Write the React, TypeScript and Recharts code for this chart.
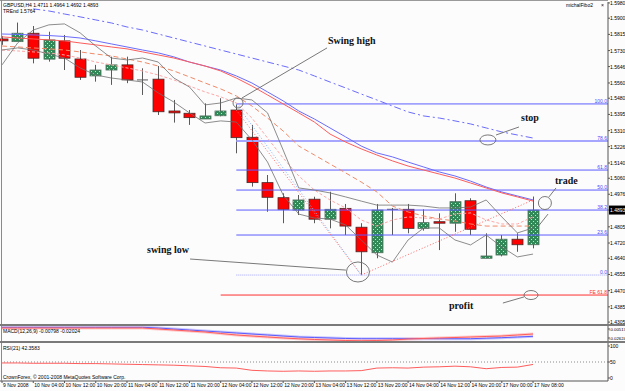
import React from "react";
import { ComposedChart, Bar, Line, XAxis, YAxis, ReferenceLine, ReferenceDot } from "recharts";

// time labels, one for every second H4 bar
const axisLabels = [
  "9 Nov 2008", "10 Nov 04:00", "10 Nov 12:00", "10 Nov 20:00", "11 Nov 04:00", "11 Nov 12:00",
  "11 Nov 20:00", "12 Nov 04:00", "12 Nov 12:00", "12 Nov 20:00", "13 Nov 04:00", "13 Nov 12:00",
  "13 Nov 20:00", "14 Nov 04:00", "14 Nov 12:00", "14 Nov 20:00", "17 Nov 00:00", "17 Nov 08:00",
];

const opens = [1.5791, 1.5777, 1.5821, 1.5685, 1.5781, 1.5686, 1.5597, 1.5628, 1.5655, 1.5576, 1.5580, 1.5413, 1.5401, 1.5371, 1.5388, 1.5418, 1.5275, 1.5037, 1.4958, 1.4893, 1.4950, 1.4845, 1.4902, 1.4803, 1.4669, 1.4897, 1.4897, 1.4797, 1.4832, 1.4824, 1.4942, 1.4640, 1.4657, 1.4740, 1.4711];
const highs = [1.5807, 1.5877, 1.5859, 1.5829, 1.5812, 1.5733, 1.5655, 1.5698, 1.5698, 1.5637, 1.5649, 1.5471, 1.5418, 1.5453, 1.5480, 1.5450, 1.5340, 1.5077, 1.4981, 1.4972, 1.4963, 1.4989, 1.4925, 1.4824, 1.4925, 1.4904, 1.4925, 1.4897, 1.4876, 1.4981, 1.4955, 1.4771, 1.4762, 1.4771, 1.4964];
const lows = [1.5760, 1.5775, 1.5663, 1.5672, 1.5628, 1.5576, 1.5567, 1.5550, 1.5559, 1.5497, 1.5392, 1.5352, 1.5340, 1.5371, 1.5385, 1.5191, 1.5016, 1.4884, 1.4824, 1.4867, 1.4824, 1.4797, 1.4762, 1.4552, 1.4640, 1.4762, 1.4771, 1.4785, 1.4683, 1.4779, 1.4762, 1.4640, 1.4650, 1.4674, 1.4692];
const closes = [1.5781, 1.5821, 1.5690, 1.5786, 1.5690, 1.5590, 1.5628, 1.5655, 1.5576, 1.5576, 1.5409, 1.5403, 1.5378, 1.5387, 1.5413, 1.5273, 1.5037, 1.4960, 1.4897, 1.4946, 1.4845, 1.4897, 1.4809, 1.4674, 1.4893, 1.4897, 1.4797, 1.4827, 1.4824, 1.4937, 1.4792, 1.4652, 1.4740, 1.4711, 1.4893];

// moving averages / bands
const maBlue = [1.5817, 1.5815, 1.5812, 1.5809, 1.5804, 1.5796, 1.5781, 1.5765, 1.5749, 1.5733, 1.5718, 1.5697, 1.5670, 1.5649, 1.5628, 1.5597, 1.5560, 1.5513, 1.5466, 1.5413, 1.5371, 1.5324, 1.5277, 1.5229, 1.5193, 1.5172, 1.5145, 1.5119, 1.5093, 1.5072, 1.5045, 1.5014, 1.4988, 1.4967, 1.4946];
const maRed = [1.5802, 1.5796, 1.5791, 1.5786, 1.5781, 1.5770, 1.5760, 1.5749, 1.5739, 1.5723, 1.5707, 1.5691, 1.5670, 1.5649, 1.5623, 1.5586, 1.5544, 1.5497, 1.5450, 1.5403, 1.5355, 1.5292, 1.5250, 1.5214, 1.5182, 1.5151, 1.5124, 1.5103, 1.5082, 1.5061, 1.5035, 1.5009, 1.4983, 1.4962, 1.4940];
const maOrange = [1.5754, 1.5749, 1.5744, 1.5739, 1.5733, 1.5723, 1.5712, 1.5702, 1.5686, 1.5670, 1.5649, 1.5623, 1.5592, 1.5560, 1.5529, 1.5492, 1.5439, 1.5376, 1.5308, 1.5229, 1.5182, 1.5135, 1.5088, 1.5040, 1.4988, 1.4914, 1.4883, 1.4862, 1.4846, 1.4836, 1.4820, 1.4809, 1.4809, 1.4809, 1.4809];
const maPink = [1.5733, 1.5728, 1.5723, 1.5718, 1.5707, 1.5691, 1.5670, 1.5655, 1.5639, 1.5623, 1.5602, 1.5576, 1.5544, 1.5513, 1.5487, 1.5455, 1.5376, 1.5271, 1.5166, 1.5072, 1.4998, 1.4946, 1.4904, 1.4841, 1.4809, 1.4841, 1.4857, 1.4851, 1.4846, 1.4872, 1.4878, 1.4841, 1.4820, 1.4820, 1.4857];
const maSlow = [null, null, 1.5949, 1.5938, 1.5922, 1.5907, 1.5891, 1.5875, 1.5854, 1.5838, 1.5817, 1.5796, 1.5775, 1.5754, 1.5733, 1.5712, 1.5691, 1.5670, 1.5649, 1.5628, 1.5597, 1.5565, 1.5534, 1.5502, 1.5471, 1.5439, 1.5408, 1.5387, 1.5376, 1.5361, 1.5345, 1.5324, 1.5303, 1.5287, 1.5271];
const bandA = [1.5655, 1.5770, 1.5838, 1.5865, 1.5870, 1.5823, 1.5754, 1.5691, 1.5681, 1.5691, 1.5670, 1.5586, 1.5539, 1.5445, 1.5455, 1.5481, 1.5471, 1.5403, 1.5208, 1.5009, 1.4998, 1.4983, 1.4962, 1.4940, 1.4919, 1.4919, 1.4919, 1.4914, 1.4904, 1.4904, 1.4909, 1.4946, 1.4857, 1.4773, 1.4799];
const bandB = [1.5733, 1.5744, 1.5733, 1.5712, 1.5691, 1.5639, 1.5602, 1.5586, 1.5576, 1.5565, 1.5508, 1.5460, 1.5403, 1.5350, 1.5361, 1.5355, 1.5261, 1.5145, 1.4972, 1.4872, 1.4851, 1.4846, 1.4815, 1.4736, 1.4657, 1.4620, 1.4736, 1.4799, 1.4799, 1.4736, 1.4710, 1.4762, 1.4699, 1.4647, 1.4662];

// trend lines: [bar index, price]
const fiboBaseLine = [[15, 1.5450], [23, 1.4552]];
const dropLine = [[15, 1.5418], [23, 1.4552]];
const riseLine = [[23, 1.4552], [34, 1.4946]];

// fibonacci levels
const fibLabels = ["100.0", "78.6", "61.8", "50.0", "38.2", "23.6", "0.0", "FE 61.8"];
const fibPrices = [1.5450, 1.5256, 1.5103, 1.4998, 1.4893, 1.4762, 1.4552, 1.4447];

const priceTicks = [1.5980, 1.5900, 1.5815, 1.5730, 1.5646, 1.5560, 1.5480, 1.5395, 1.5310, 1.5226, 1.5140, 1.5060, 1.4976, 1.4893, 1.4805, 1.4720, 1.4640, 1.4555, 1.4470, 1.4385, 1.4305];
const lastPrice = 1.4893;

const macdMain = [-0.0012, -0.0012, -0.0012, -0.0012, -0.0012, -0.0012, -0.0012, -0.0012, -0.0012, -0.0012, -0.0028, -0.0052, -0.0075, -0.0099, -0.0122, -0.0145, -0.0169, -0.0192, -0.0216, -0.0239, -0.0251, -0.0262, -0.0274, -0.0279, -0.0279, -0.0279, -0.0279, -0.0279, -0.0279, -0.0279, -0.0279, -0.0267, -0.0255, -0.0239, -0.0223];
const macdSignal = [-0.0028, -0.0028, -0.0028, -0.0028, -0.0028, -0.0028, -0.0028, -0.0028, -0.0028, -0.0028, -0.0052, -0.0075, -0.0099, -0.0122, -0.0157, -0.0192, -0.0216, -0.0239, -0.0262, -0.0281, -0.0297, -0.0309, -0.0321, -0.0326, -0.0321, -0.0309, -0.0286, -0.0274, -0.0262, -0.0251, -0.0239, -0.0227, -0.0216, -0.0192, -0.0169];
const macdTicks = [-0.00517, -0.02624];

const rsi = [47, 47, 46, 46, 46, 45, 45, 44, 43, 42, 41, 40, 38, 36, 32, 31, 24, 22, 21, 22, 21, 22, 22, 23, 31, 32, 31, 34, 35, 37, 35, 29, 33, 34, 42.36];
const rsiTicks = [0, 50, 100];

const X_DOMAIN: [number, number] = [-0.13, 38.8];
const timeTicks = axisLabels.map((_, k) => k * 2);

const pairAt = (pairs: number[][], i: number) => {
  const hit = pairs.find((p) => p[0] === i);
  return hit ? hit[1] : null;
};

const rows = opens.map((o, i) => ({
  i, o, h: highs[i], l: lows[i], c: closes[i],
  maBlue: maBlue[i], maRed: maRed[i], maOrange: maOrange[i], maPink: maPink[i], maSlow: maSlow[i],
  bandA: bandA[i], bandB: bandB[i],
  fiboBase: pairAt(fiboBaseLine, i), drop: pairAt(dropLine, i), rise: pairAt(riseLine, i),
  macdMain: macdMain[i], macdSignal: macdSignal[i], rsi: rsi[i],
}));

const SANS = '"Liberation Sans", Arial, sans-serif';
const SERIF = '"Liberation Serif", "Times New Roman", serif';

function Candle(props: any) {
  const { x, y, width, height, payload } = props;
  if (x == null || !payload) return null;
  const { o, h, l, c } = payload;
  const toY = (p: number) => y + ((h - p) / (h - l)) * height;
  const cx = Math.round(x + width / 2) + 0.5;
  const top = toY(Math.max(o, c));
  const bot = toY(Math.min(o, c));
  const up = c > o;
  const doji = Math.abs(c - o) < 0.00005;
  return (
    <g>
      <line x1={cx} x2={cx} y1={y} y2={y + height} stroke="#5a5a5a" strokeWidth={1} />
      {doji ? (
        <line x1={cx - 5.5} x2={cx + 5.5} y1={top} y2={top} stroke="#5a5a5a" strokeWidth={1} />
      ) : (
        <rect x={cx - 5.5} y={top} width={11} height={Math.max(bot - top, 1.5)}
          fill={up ? "url(#bullDots)" : "#ff0000"} stroke={up ? "#50705e" : "#4a2a2a"} strokeWidth={0.8} />
      )}
    </g>
  );
}

const PriceTick = (props: any) => {
  const { x, y, payload } = props;
  const v = payload.value;
  if (Math.abs(v - lastPrice) < 1e-6) {
    return (
      <g>
        <rect x={x - 1} y={y - 4.5} width={17} height={9} fill="#000" />
        <text x={x} y={y + 2} fontSize={5} fill="#fff" fontFamily={SANS}>{v.toFixed(4)}</text>
      </g>
    );
  }
  return <text x={x} y={y + 2} fontSize={5} fill="#000" fontFamily={SANS}>{v.toFixed(4)}</text>;
};

const MacdTick = (props: any) => {
  const { x, y, payload } = props;
  return <text x={x - 1} y={y + 2} fontSize={4.3} fill="#000" fontFamily={SANS}>{payload.value.toFixed(5)}</text>;
};

const RsiTick = (props: any) => {
  const { x, y, payload } = props;
  return <text x={x} y={y + 2} fontSize={5} fill="#000" fontFamily={SANS}>{String(payload.value)}</text>;
};

const TimeTick = (props: any) => {
  const { x, y, payload } = props;
  return <text x={x + 1} y={y + 4} fontSize={5} fill="#000" fontFamily={SANS}>{axisLabels[payload.value / 2]}</text>;
};

const fibStyle = (k: number) => {
  if (k === 7) return { stroke: "#ff3030", strokeWidth: 1, dash: undefined as string | undefined, start: 14 };
  if (k === 1) return { stroke: "#a6a6ff", strokeWidth: 2, dash: undefined, start: 15 };
  if (k === 6) return { stroke: "#a0a0ff", strokeWidth: 1, dash: "1 1", start: 15 };
  return { stroke: "#5c5cff", strokeWidth: 1, dash: undefined, start: 15 };
};

const ring = (rx: number, ry: number) => (p: any) => (
  <ellipse cx={p.cx} cy={p.cy} rx={rx} ry={ry} fill="none" stroke="#6a6a6a" strokeWidth={0.9} />
);

const leader = (x1: number, y1: number, x2: number, y2: number, key: string) => (
  <ReferenceLine key={key} segment={[{ x: x1, y: y1 }, { x: x2, y: y2 }]} stroke="#6a6a6a" strokeWidth={0.9} ifOverflow="visible" />
);

export default function App() {
  return (
    <div style={{ position: "absolute", left: 0, top: 0, width: 625, height: 391, background: "#fcfcfc", overflow: "hidden" }}>
      <svg width={0} height={0} style={{ position: "absolute" }}>
        <defs>
          <pattern id="bullDots" width={4} height={4} patternUnits="userSpaceOnUse">
            <rect width={4} height={4} fill="#2f8a58" />
            <rect x={1} y={1} width={1} height={1} fill="#b4e2f2" />
            <rect x={3} y={3} width={1} height={1} fill="#b4e2f2" />
          </pattern>
        </defs>
      </svg>

      <div style={{ position: "absolute", left: 0, top: 0 }}>
        <ComposedChart width={625} height={324} data={rows} margin={{ top: 2, right: 0, bottom: 0, left: 0 }}>
          <XAxis dataKey="i" type="number" domain={X_DOMAIN} allowDataOverflow hide />
          <YAxis orientation="right" width={17} domain={[1.4295, 1.5985]} allowDataOverflow ticks={priceTicks}
            interval={0} tick={PriceTick} tickSize={2} tickMargin={0} stroke="#555" />
          {fibPrices.map((p, k) => {
            const st = fibStyle(k);
            return (
              <ReferenceLine key={"fib" + k} segment={[{ x: st.start, y: p }, { x: X_DOMAIN[1], y: p }]}
                stroke={st.stroke} strokeWidth={st.strokeWidth} strokeDasharray={st.dash}
                label={{ value: fibLabels[k], position: "insideBottomRight", offset: 1, fill: k === 7 ? "#ff3030" : "#4a4aff", fontSize: 5, fontFamily: SANS }} />
            );
          })}
          <Bar dataKey={(d: any) => [d.l, d.h]} barSize={11} shape={(p: any) => <Candle {...p} />} isAnimationActive={false} />
          <Line dataKey="maSlow" stroke="#6b6bff" strokeWidth={1} strokeDasharray="7 3 2 3" dot={false} isAnimationActive={false} />
          <Line dataKey="maBlue" stroke="#6b6bff" strokeWidth={1} dot={false} isAnimationActive={false} />
          <Line dataKey="maRed" stroke="#ff5c5c" strokeWidth={1} dot={false} isAnimationActive={false} />
          <Line dataKey="maOrange" stroke="#f08a6a" strokeWidth={1} strokeDasharray="5 3" dot={false} isAnimationActive={false} />
          <Line dataKey="maPink" stroke="#ffa8a8" strokeWidth={1} strokeDasharray="3 2" dot={false} isAnimationActive={false} />
          <Line dataKey="bandA" stroke="#707070" strokeWidth={0.8} dot={false} isAnimationActive={false} />
          <Line dataKey="bandB" stroke="#707070" strokeWidth={0.8} dot={false} isAnimationActive={false} />
          <Line dataKey="fiboBase" stroke="#7fb2ff" strokeWidth={1} strokeDasharray="1 2" dot={false} connectNulls isAnimationActive={false} />
          <Line dataKey="drop" stroke="#ff6a6a" strokeWidth={1} strokeDasharray="1 2" dot={false} connectNulls isAnimationActive={false} />
          <Line dataKey="rise" stroke="#ff6a6a" strokeWidth={1} strokeDasharray="1 2" dot={false} connectNulls isAnimationActive={false} />

          <ReferenceDot x={15.11} y={1.5455} r={5} shape={ring(5, 5)} ifOverflow="visible" />
          <ReferenceDot x={31.11} y={1.5261} r={8} shape={ring(8, 5)} ifOverflow="visible" />
          <ReferenceDot x={34.76} y={1.4930} r={7} shape={ring(6.5, 6.5)} ifOverflow="visible" />
          <ReferenceDot x={22.79} y={1.4568} r={12} shape={ring(11.5, 10)} ifOverflow="visible" />
          <ReferenceDot x={33.87} y={1.4447} r={7} shape={ring(7, 4.5)} ifOverflow="visible" />
          {leader(15.36, 1.5481, 20.81, 1.5744, "l1")}
          {leader(31.63, 1.5287, 33.10, 1.5329, "l2")}
          {leader(35.02, 1.4962, 35.47, 1.5009, "l3")}
          {leader(34.25, 1.4799, 34.96, 1.4872, "l4")}
          {leader(12.04, 1.4636, 22.02, 1.4578, "l5")}
          {leader(32.07, 1.4405, 33.42, 1.4437, "l6")}
        </ComposedChart>
      </div>

      <div style={{ position: "absolute", left: 0, top: 326 }}>
        <ComposedChart width={625} height={15} data={rows} margin={{ top: 0, right: 0, bottom: 0, left: 0 }}>
          <XAxis dataKey="i" type="number" domain={X_DOMAIN} allowDataOverflow hide />
          <YAxis orientation="right" width={17} domain={[-0.03326, 0.00185]} allowDataOverflow ticks={macdTicks}
            interval={0} tick={MacdTick} tickSize={2} tickMargin={0} stroke="#555" />
          <Line dataKey="macdMain" stroke="#c8c8ff" strokeWidth={3} dot={false} isAnimationActive={false} />
          <Line dataKey="macdSignal" stroke="#ffcaca" strokeWidth={3} dot={false} isAnimationActive={false} />
          <Line dataKey="macdMain" stroke="#5c5cff" strokeWidth={1} dot={false} isAnimationActive={false} />
          <Line dataKey="macdSignal" stroke="#ff5c5c" strokeWidth={1} dot={false} isAnimationActive={false} />
        </ComposedChart>
      </div>

      <div style={{ position: "absolute", left: 0, top: 343 }}>
        <ComposedChart width={625} height={48} data={rows} margin={{ top: 0, right: 0, bottom: 0, left: 0 }}>
          <XAxis dataKey="i" type="number" domain={X_DOMAIN} allowDataOverflow ticks={timeTicks} interval={0}
            tick={TimeTick} tickSize={2} tickMargin={0} height={10} stroke="#555" />
          <YAxis orientation="right" width={17} domain={[-9.4, 109.4]} allowDataOverflow ticks={rsiTicks}
            interval={0} tick={RsiTick} tickSize={2} tickMargin={0} stroke="#555" />
          <ReferenceLine y={50} stroke="#8a8a8a" strokeDasharray="1 2" />
          <Line dataKey="rsi" stroke="#ff5c5c" strokeWidth={1} dot={false} isAnimationActive={false} />
        </ComposedChart>
      </div>

      {/* window chrome */}
      <div style={{ position: "absolute", left: 0, top: 0, width: 608, height: 1, background: "#9a9a9a" }} />
      <div style={{ position: "absolute", left: 1, top: 0, width: 1, height: 381, background: "#8a8a8a" }} />
      <div style={{ position: "absolute", left: 0, top: 324, width: 625, height: 2, background: "#7a7a7a" }} />
      <div style={{ position: "absolute", left: 0, top: 341, width: 625, height: 2, background: "#7a7a7a" }} />

      <svg width={625} height={391} style={{ position: "absolute", left: 0, top: 0, pointerEvents: "none" }}>
        <g fontFamily={SANS} fontSize={5} fill="#000">
          <text x={3} y={7}>GBPUSD,H4 1.4711 1.4964 1.4692 1.4893</text>
          <text x={3} y={13}>TREnd 1.5764</text>
          <text x={566} y={7}>michalFibo2</text>
          <text x={601} y={7}>×</text>
          <text x={3} y={333}>MACD(12,26,9) -0.00798 -0.02024</text>
          <text x={3} y={350}>RSI(21) 42.3583</text>
          <text x={3} y={379}>CrownForex, © 2001-2008 MetaQuotes Software Corp.</text>
        </g>
        <g fontFamily={SERIF} fontSize={10} fontWeight="bold" fill="#111">
          <text x={328} y={44}>Swing high</text>
          <text x={521} y={121}>stop</text>
          <text x={555} y={184}>trade</text>
          <text x={147} y={253}>swing low</text>
          <text x={449} y={309}>profit</text>
        </g>
      </svg>
    </div>
  );
}
